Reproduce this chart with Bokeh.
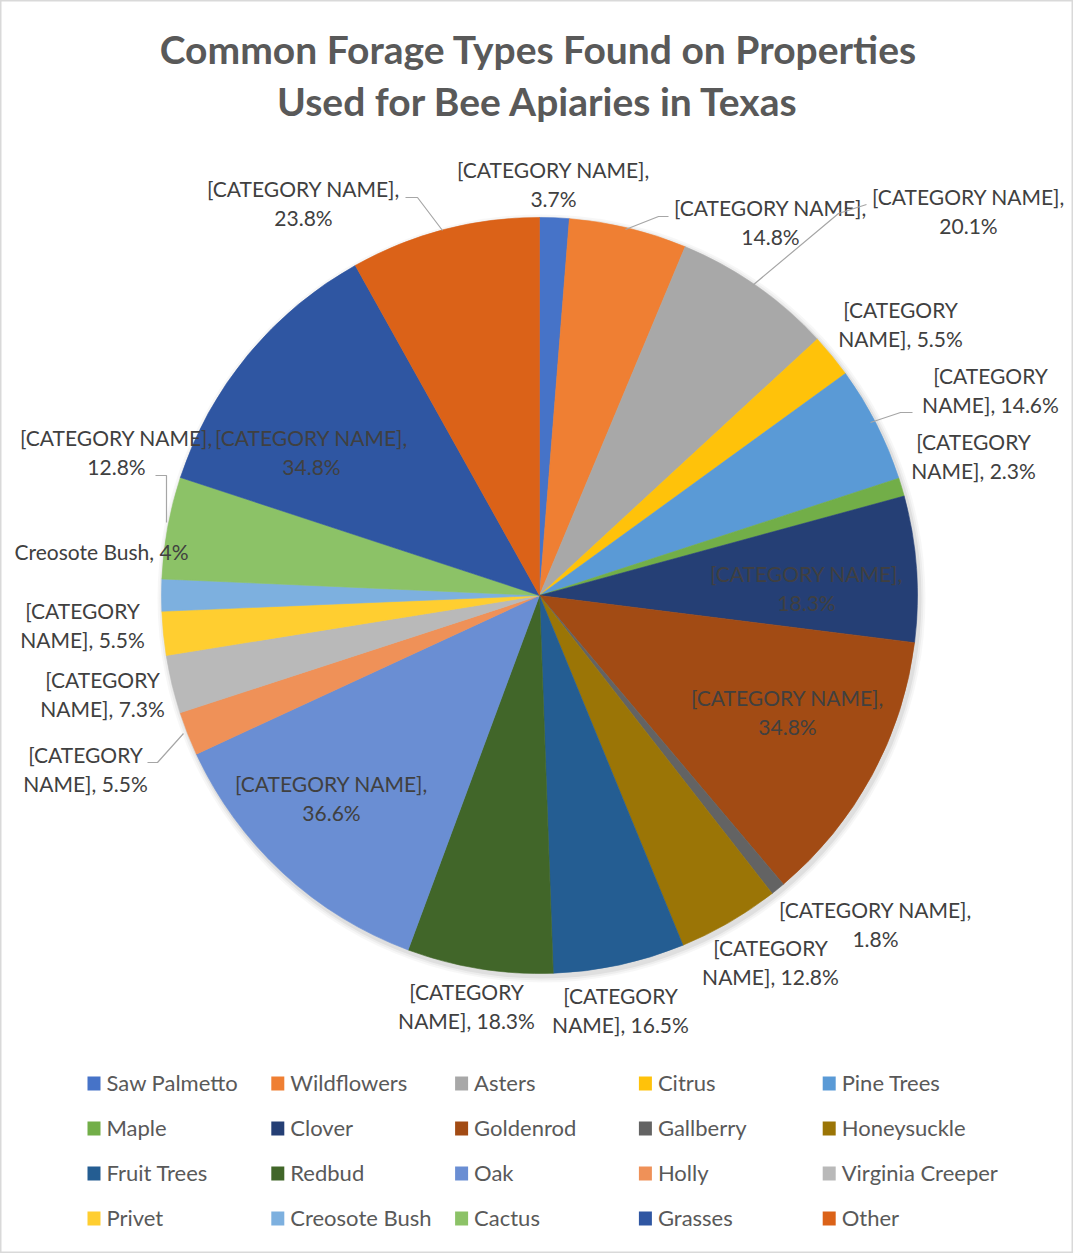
import math
from bokeh.plotting import figure
from bokeh.models import ColumnDataSource, Range1d
from bokeh.core.properties import value
from bokeh.embed import file_html
from bokeh.resources import INLINE

# ---------------- data ----------------
categories = ["Saw Palmetto", "Wildflowers", "Asters", "Citrus", "Pine Trees",
              "Maple", "Clover", "Goldenrod", "Gallberry", "Honeysuckle",
              "Fruit Trees", "Redbud", "Oak", "Holly", "Virginia Creeper",
              "Privet", "Creosote Bush", "Cactus", "Grasses", "Other"]
values = [3.7, 14.8, 20.1, 5.5, 14.6, 2.3, 18.3, 34.8, 1.8, 12.8,
          16.5, 18.3, 36.6, 5.5, 7.3, 5.5, 4, 12.8, 34.8, 23.8]
colors = ["#4673C8", "#EF7F33", "#A8A8A8", "#FFC20A", "#5A9AD6",
          "#72AE48", "#253F75", "#A24B14", "#636363", "#9B7506",
          "#245D92", "#416629", "#6A8ED3", "#EF9158", "#B9B9B9",
          "#FFCE30", "#7DB0DF", "#8CC267", "#2F56A2", "#DB6218"]
title_lines = ["Common Forage Types Found on Properties",
               "Used for Bee Apiaries in Texas"]

# -------------- layout ----------------
W, H = 1073, 1253
def X(ix):
    return ix
def Y(iy):
    return H - iy

FONT = "Lato"
TXT = "#404040"
LEG = "#595959"

p = figure(width=W, height=H, output_backend="svg", toolbar_location=None,
           x_range=Range1d(0, W), y_range=Range1d(0, H), min_border=0,
           background_fill_color="white", border_fill_color="white")
p.axis.visible = False
p.grid.visible = False
p.outline_line_color = "#D9D9D9"
p.outline_line_width = 2

# title
for i, t in enumerate(title_lines):
    p.text(x=[X(538)], y=[Y(48 + 52 * i)], text=[t], text_font=value(FONT),
           text_font_style="bold", text_font_size="39px", text_color="#595959",
           text_align="center", text_baseline="middle")

# pie
cx, cy, R = X(539), Y(595), 378
total = sum(values)
starts, ends = [], []
acc = 0.0
for v in values:
    a0 = acc / total * 2 * math.pi
    acc += v
    a1 = acc / total * 2 * math.pi
    starts.append(math.pi / 2 - a0)
    ends.append(math.pi / 2 - a1)
src = ColumnDataSource(dict(cat=categories, val=values, color=colors,
                            start=starts, end=ends))

# soft shadow
for k, a in [(6, 0.03), (4, 0.04), (2, 0.06)]:
    p.circle(x=[cx + 2], y=[cy - 3], radius=R + k, fill_color="black",
             fill_alpha=a, line_color=None)

p.wedge(x=cx, y=cy, radius=R, start_angle="start", end_angle="end",
        direction="clock", fill_color="color", line_color="color",
        line_width=0.6, source=src)

# data labels: (line1 center x, line1 y, break style) in image px
label_pos = [(553, 169, 0), (770, 207, 0), (968, 196, 0), (900, 309, 1),
             (990, 375, 1), (973, 441, 1), (806, 573, 0), (787, 697, 0),
             (875, 909, 0), (770, 947, 1), (620, 995, 1), (466, 991, 1),
             (331, 783, 0), (85, 754, 1), (102, 679, 1), (82, 610, 1),
             (101, 551, 2), (116, 437, 0), (311, 437, 0), (303, 188, 0)]
LS = 29
for cat, v, (lx, ly, style) in zip(categories, values, label_pos):
    vs = f"{v:g}%"
    if style == 0:
        lines = ["[CATEGORY NAME],", vs]
    elif style == 1:
        lines = ["[CATEGORY", f"NAME], {vs}"]
    else:
        lines = [f"{cat}, {vs}"]
    for j, ln in enumerate(lines):
        p.text(x=[X(lx)], y=[Y(ly + LS * j)], text=[ln], text_font=value(FONT),
               text_font_size="21px", text_color=TXT, text_align="center",
               text_baseline="middle")

# leader lines (image px)
leaders = [
    [(625, 229), (658, 216), (668, 216)],
    [(752, 285), (838, 213), (866, 204)],
    [(870, 422), (900, 412), (912, 412)],
    [(183, 733), (157, 762), (147, 762)],
    [(166, 522), (166, 475), (155, 475)],
    [(442, 230), (417, 197), (405, 197)],
]
for ld in leaders:
    p.line(x=[X(a) for a, b in ld], y=[Y(b) for a, b in ld],
           line_color="#A6A6A6", line_width=1.2)

# legend
for i, (cat, col) in enumerate(zip(categories, colors)):
    c, r = i % 5, i // 5
    sx = 87 + 183.8 * c
    sy = 1083 + 45 * r
    p.rect(x=[X(sx + 6.5)], y=[Y(sy)], width=13, height=14, fill_color=col,
           line_color=None)
    p.text(x=[X(sx + 19)], y=[Y(sy - 1)], text=[cat], text_font=value(FONT),
           text_font_size="22px", text_color=LEG, text_align="left",
           text_baseline="middle")

open("out.html", "w").write(file_html(p, INLINE))
